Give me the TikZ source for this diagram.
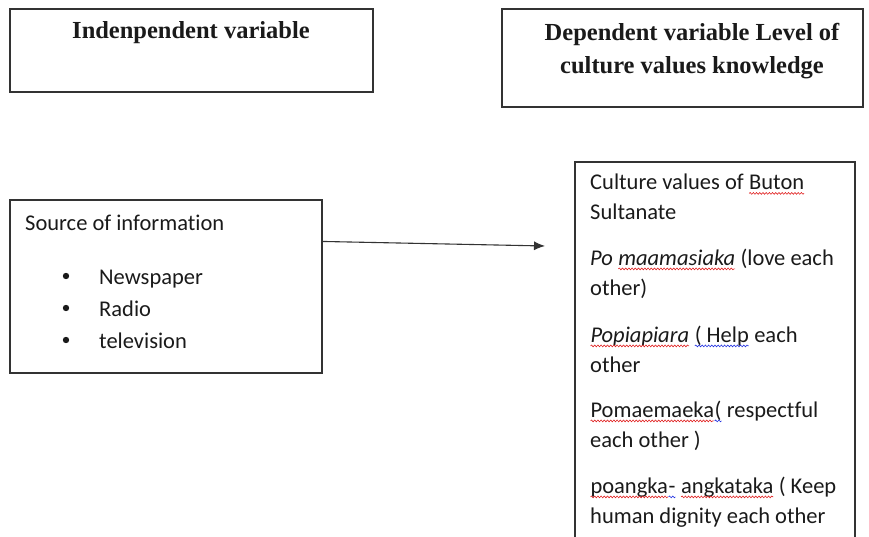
\documentclass[tikz,border=0pt]{standalone}
\usepackage{fontspec}
\setmainfont{Liberation Serif}
\newfontfamily\calib[Ligatures=NoCommon]{Carlito}
\usetikzlibrary{arrows.meta,calc,decorations.pathmorphing}
\definecolor{edge}{HTML}{333333}
\definecolor{txt}{HTML}{1A1A1A}
\definecolor{spellred}{HTML}{E02020}
\definecolor{spellblue}{HTML}{2030E0}
\newcommand\wavy[2]{\tikz[baseline=(w.base)]{\node[draw=none,fill=none,inner sep=0pt,outer sep=0pt,anchor=base](w){#2};\draw[#1,line width=0.6pt,decorate,decoration={snake,amplitude=0.9pt,segment length=3.2pt}] ([yshift=-3.4pt]w.base west) -- ([yshift=-3.4pt]w.base east);}}
\tikzset{
  box/.style={draw=edge,line width=1.1pt,rectangle,inner sep=0pt},
  title/.style={font=\fontsize{24.5}{33}\selectfont\bfseries,text=txt,align=center,inner sep=0pt},
  body/.style={font=\calib\fontsize{22.5}{29.5}\selectfont,text=txt,align=left,inner sep=0pt},
  conn/.style={draw=edge,line width=1.1pt,-{Latex[length=11pt,width=9pt]}}
}
\begin{document}
\begin{tikzpicture}[x=1pt,y=-1pt]
\useasboundingbox (0,0) rectangle (869,537);
\clip (0,0) rectangle (869,537);
% boxes
\node[box,minimum width=363pt,minimum height=83pt] (indep) at (191.5,50.5) {};
\node[box,minimum width=361pt,minimum height=98pt] (dep) at (682.5,58) {};
\node[box,minimum width=312pt,minimum height=173pt] (src) at (166,286.5) {};
\node[box,minimum width=280pt,minimum height=440pt] (cult) at (715,382) {};
% titles
\node[title,anchor=base] (t1) at (191,39) {Indenpendent variable};
\node[title,anchor=base] (t2) at (692,74) {Dependent variable Level of\\culture values knowledge};
% source box text
\node[body,anchor=base west] (s0) at (25,230) {Source of information};
\node[body,anchor=base west] (n1) at (99,284) {Newspaper};
\node[body,anchor=base west] (n2) at (99,316) {Radio};
\node[body,anchor=base west] (n3) at (99,348) {television};
\foreach \y/\n in {276/b1,308/b2,340/b3}{\fill[txt] (66,\y) circle (3.2pt) coordinate (\n);}
% culture values text
\node[body,anchor=base west] (c1) at (590,219.5) {Culture values of \wavy{spellred}{Buton}\\Sultanate};
\node[body,anchor=base west] (c2) at (590,295) {\textit{Po \wavy{spellred}{maamasiaka}} (love each\\other)};
\node[body,anchor=base west] (c3) at (590,372) {\wavy{spellred}{\textit{Popiapiara}} \wavy{spellblue}{( Help} each\\other};
\node[body,anchor=base west] (c4) at (590,447) {\wavy{spellred}{Pomaemaeka}\wavy{spellblue}{(} respectful\\each other )};
\node[body,anchor=base west] (c5) at (590,523) {\wavy{spellred}{poangka}\wavy{spellblue}{-} \wavy{spellred}{angkataka} ( Keep\\human dignity each other};
% connector
\coordinate (aend) at (545,246);
\draw[conn] ($(src.north east)+(0,42)$) -- (aend);
\end{tikzpicture}
\end{document}
